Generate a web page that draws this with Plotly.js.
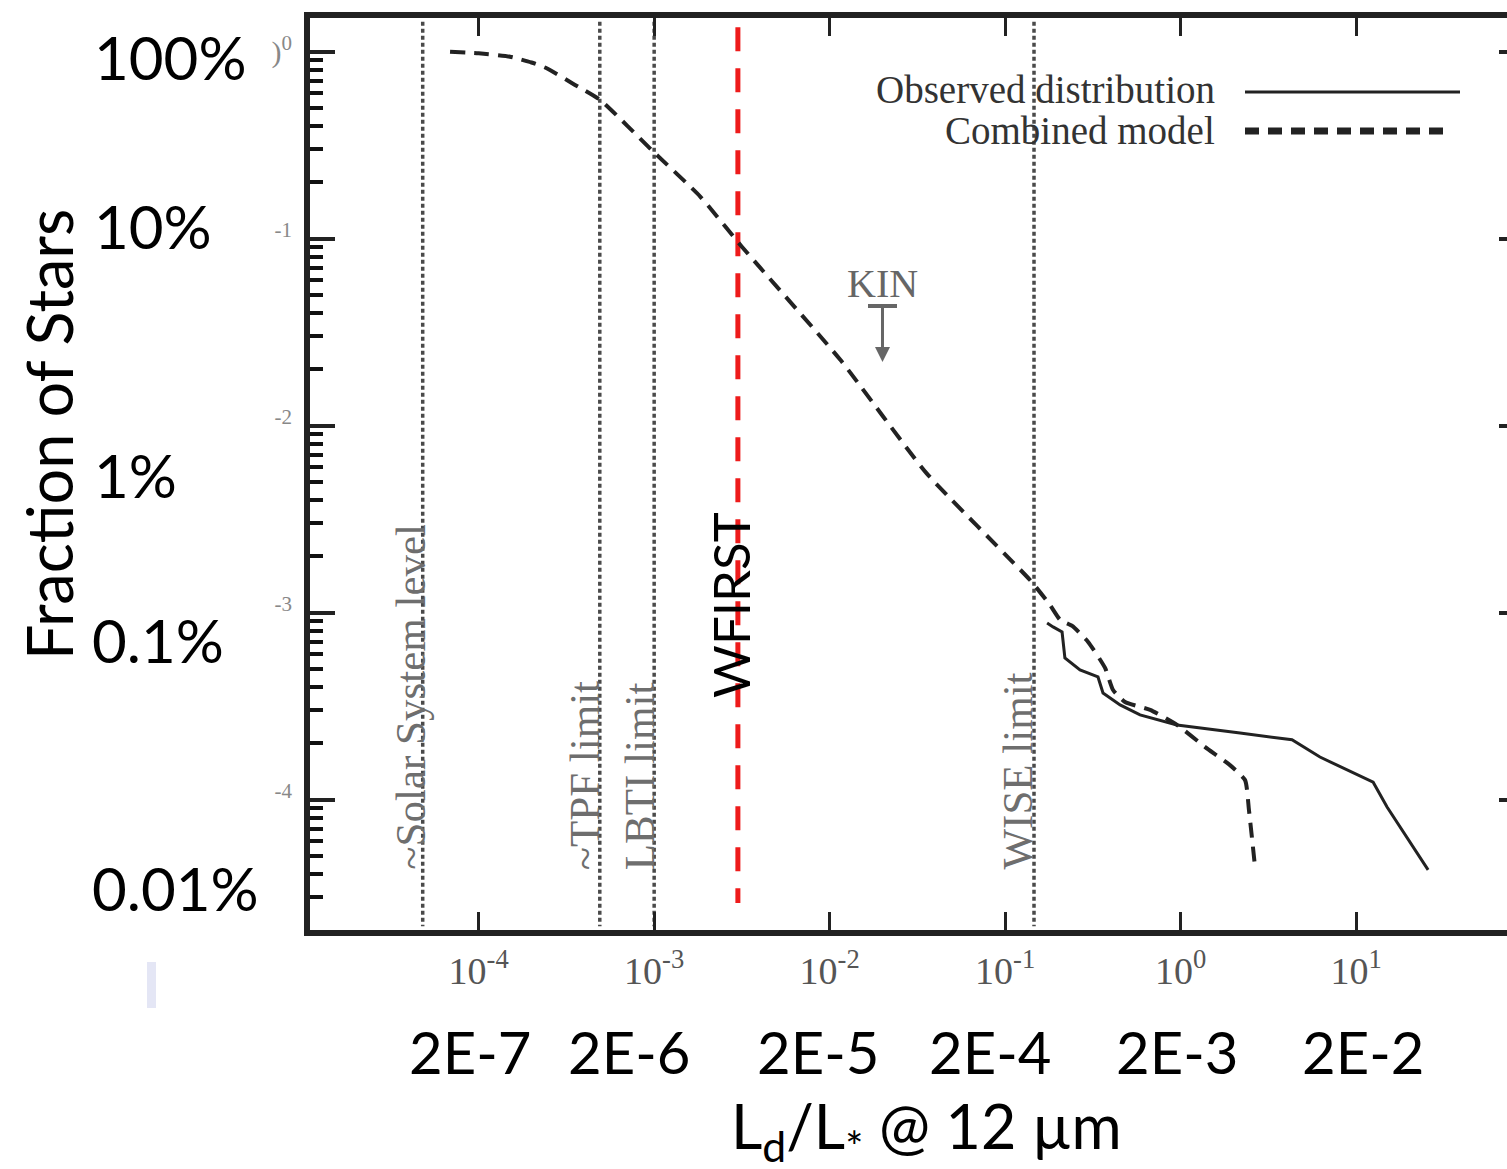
<!DOCTYPE html>
<html><head><meta charset="utf-8">
<script src="https://cdn.plot.ly/plotly-3.0.1.min.js"></script>
<style>html,body{margin:0;padding:0;background:#fff;overflow:hidden}#chart{width:1515px;height:1169px}</style>
</head><body><div id="chart"></div>
<script>
// ---------- data ----------
const combinedX = [6.87e-5, 1.0e-4, 1.51e-4, 2.0e-4, 2.44e-4, 3.54e-4, 4.92e-4, 9.89e-4, 1.83e-3, 3.16e-3, 1.15e-2, 3.57e-2, 0.139, 0.180, 0.206, 0.241, 0.297, 0.371, 0.412, 0.482, 0.670, 0.953, 1.38, 1.91, 2.33, 2.45, 2.65];
const combinedY = [1.0, 0.98, 0.94, 0.875, 0.815, 0.664, 0.552, 0.292, 0.168, 0.0906, 0.0225, 0.00556, 0.00149, 0.00110, 0.000914, 0.000849, 0.000697, 0.000506, 0.000386, 0.000333, 0.000302, 0.000251, 0.000191, 0.000153, 0.000127, 0.000088, 0.0000442];
const observedX = [0.1734, 0.1875, 0.211, 0.219, 0.267, 0.338, 0.361, 0.452, 0.587, 0.953, 2.18, 4.31, 6.22, 8.41, 12.5, 15.0, 25.7];
const observedY = [0.000881, 0.000839, 0.000788, 0.000573, 0.000494, 0.000453, 0.000372, 0.000321, 0.000284, 0.000251, 0.000227, 0.000209, 0.000169, 0.000148, 0.000124, 0.0000914, 0.0000421];
const limitNames = ["~Solar System level", "~TPF limit", "LBTI limit", "WISE limit"];
const limitX = [4.8e-5, 4.9e-4, 1.0e-3, 0.146];
const wfirstName = "WFIRST";
const wfirstX = 3.0e-3;
const wfirstYTop = 1.35;
const wfirstYBottom = 2.8e-5;
const kinName = "KIN";
const kinX = 0.02;
const kinY = 0.0219;
const xTickVals = [1e-4, 1e-3, 1e-2, 1e-1, 1e0, 1e1];
const xTickText = ["10<sup>-4</sup>", "10<sup>-3</sup>", "10<sup>-2</sup>", "10<sup>-1</sup>", "10<sup>0</sup>", "10<sup>1</sup>"];
const secondaryLabels = ["2E-7", "2E-6", "2E-5", "2E-4", "2E-3", "2E-2"];
const yTickVals = [1, 0.1, 0.01, 0.001, 0.0001];
const yTickRemnants = [")<sup>0</sup>", "<sup>-1</sup>", "<sup>-2</sup>", "<sup>-3</sup>", "<sup>-4</sup>"];
const pctLabels = ["100%", "10%", "1%", "0.1%", "0.01%"];
const legendNames = ["Observed distribution", "Combined model"];

// ---------- layout geometry ----------
const W = 1515, H = 1169, L = 310, R = 1512, T = 18, B = 930;
const xRange = [-4.961, 1.888];
const yRange = [-4.697, 0.180];
const px = v => (v - L) / (R - L);
const py = v => (B - v) / (B - T);
const lg = Math.log10;

// minor tick positions (2..9 of every decade)
const minorYTicks = [];
for (let d = -5; d <= 0; d++) for (let m = 2; m <= 9; m++) minorYTicks.push(m * Math.pow(10, d));

const sans = "Lato, 'Open Sans', sans-serif";
const serif = "'Liberation Serif', 'DejaVu Serif', serif";
const ink = "#222";

const traces = [];
limitX.forEach(v => traces.push({
  x: [v, v], y: [Math.pow(10, yRange[1] - 0.02), Math.pow(10, yRange[0] + 0.02)],
  mode: "lines", line: {color: "#4a4a4a", width: 3.5, dash: "4px,3px"},
  hoverinfo: "skip", showlegend: false
}));
traces.push({
  x: [wfirstX, wfirstX], y: [wfirstYTop, wfirstYBottom],
  mode: "lines", line: {color: "#ee1b1b", width: 5, dash: "24px,17px"},
  hoverinfo: "skip", showlegend: false
});
traces.push({
  x: combinedX, y: combinedY, name: legendNames[1],
  mode: "lines", line: {color: ink, width: 4, dash: "15px,9px", shape: "spline", smoothing: 0.5}, showlegend: false
});
traces.push({
  x: observedX, y: observedY, name: legendNames[0],
  mode: "lines", line: {color: ink, width: 3}, showlegend: false
});
["y2", "y3"].forEach(ax => traces.push({
  x: observedX, y: observedY, yaxis: ax, mode: "lines",
  line: {color: "rgba(0,0,0,0)", width: 0}, hoverinfo: "skip", showlegend: false
}));

const annotations = [];
const pctPos = [[92, 57], [92, 226], [92, 475], [90, 640], [90, 888]];
pctLabels.forEach((t, i) => annotations.push({
  text: t, xref: "paper", yref: "paper", x: px(pctPos[i][0]), y: py(pctPos[i][1]),
  xanchor: "left", yanchor: "middle", showarrow: false, font: {family: sans, size: 60, color: "#000"}
}));
annotations.push({text: "Fraction of Stars", xref: "paper", yref: "paper", x: px(48), y: py(435),
  textangle: -90, xanchor: "center", yanchor: "middle", showarrow: false,
  font: {family: sans, size: 63, color: "#000"}});
const secShift = [-9, -25, -12, -15, -4, 7];
secondaryLabels.forEach((t, i) => annotations.push({
  text: t, xref: "x", yref: "paper", x: lg(xTickVals[i]), xshift: secShift[i], y: py(1051),
  xanchor: "center", yanchor: "middle", showarrow: false, font: {family: sans, size: 58, color: "#000"}
}));
annotations.push({text: "L<sub>d</sub>/L<sub>*</sub> @ 12 µm", xref: "paper", yref: "paper",
  x: px(926), y: py(1130), xanchor: "center", yanchor: "middle", showarrow: false,
  font: {family: sans, size: 61, color: "#000"}});
const limShift = [-13, -15, -15, -17];
limitNames.forEach((t, i) => annotations.push({
  text: t, xref: "x", yref: "paper", x: lg(limitX[i]), xshift: limShift[i], y: py(872),
  textangle: -90, xanchor: "center", yanchor: "bottom", showarrow: false,
  font: {family: serif, size: 43, color: "#6e6e6e"}
}));
annotations.push({text: wfirstName, xref: "x", yref: "paper", x: lg(wfirstX), xshift: -8, y: py(700),
  textangle: -90, xanchor: "center", yanchor: "bottom", showarrow: false,
  font: {family: sans, size: 51, color: "#000"}});
annotations.push({text: kinName, xref: "x", yref: "y", x: lg(kinX), y: lg(kinY), ax: 0, ay: -79,
  showarrow: true, arrowhead: 2, arrowsize: 1, arrowwidth: 3, arrowcolor: "#666",
  font: {family: serif, size: 40, color: "#666"}});
legendNames.forEach((t, i) => annotations.push({
  text: t, xref: "paper", yref: "paper", x: px(1217), y: py([89, 130][i]),
  xanchor: "right", yanchor: "middle", showarrow: false, font: {family: serif, size: 39, color: "#333"}
}));

const shapes = [
  {type: "line", xref: "paper", yref: "paper", x0: px(1245), x1: px(1460), y0: py(92), y1: py(92),
   line: {color: ink, width: 3}},
  {type: "line", xref: "paper", yref: "paper", x0: px(1245), x1: px(1452), y0: py(131), y1: py(131),
   line: {color: ink, width: 7, dash: "14px,9px"}},
  {type: "line", xref: "paper", yref: "paper", x0: px(868), x1: px(897), y0: py(306), y1: py(306),
   line: {color: "#666", width: 4}},
  {type: "rect", xref: "paper", yref: "paper", x0: px(147), x1: px(156), y0: py(1008), y1: py(962),
   fillcolor: "#e4e6f5", line: {width: 0}}
];

const layout = {
  width: W, height: H,
  margin: {l: L, r: W - R, t: T, b: H - B},
  paper_bgcolor: "#fff", plot_bgcolor: "#fff",
  showlegend: false,
  xaxis: {
    type: "log", range: xRange, tickmode: "array", tickvals: xTickVals, ticktext: xTickText,
    ticks: "inside", ticklen: 18, tickwidth: 3, tickcolor: ink,
    showline: true, linewidth: 6, linecolor: ink, mirror: "ticks",
    showgrid: false, zeroline: false, ticklabelstandoff: 2,
    tickfont: {family: serif, size: 38, color: "#555"}
  },
  yaxis: {
    type: "log", range: yRange, tickmode: "array", tickvals: yTickVals, ticktext: yTickRemnants,
    ticks: "inside", ticklen: 25, tickwidth: 4, tickcolor: ink,
    showline: true, linewidth: 6, linecolor: ink, mirror: true,
    showgrid: false, zeroline: false, ticklabelstandoff: 6,
    tickfont: {family: serif, size: 30, color: "#888"}
  },
  yaxis2: {
    type: "log", range: yRange, overlaying: "y", side: "right", anchor: "x",
    tickmode: "array", tickvals: yTickVals, showticklabels: false,
    ticks: "inside", ticklen: 13, tickwidth: 4, tickcolor: ink,
    showline: false, showgrid: false, zeroline: false
  },
  yaxis3: {
    type: "log", range: yRange, overlaying: "y", side: "left", anchor: "x",
    tickmode: "array", tickvals: minorYTicks, ticktext: minorYTicks.map(() => ""), showticklabels: false,
    ticks: "inside", ticklen: 13, tickwidth: 4, tickcolor: "#111",
    showline: false, showgrid: false, zeroline: false
  },
  annotations: annotations,
  shapes: shapes
};

Plotly.newPlot("chart", traces, layout, {displayModeBar: false, staticPlot: true});
</script>
</body></html>
